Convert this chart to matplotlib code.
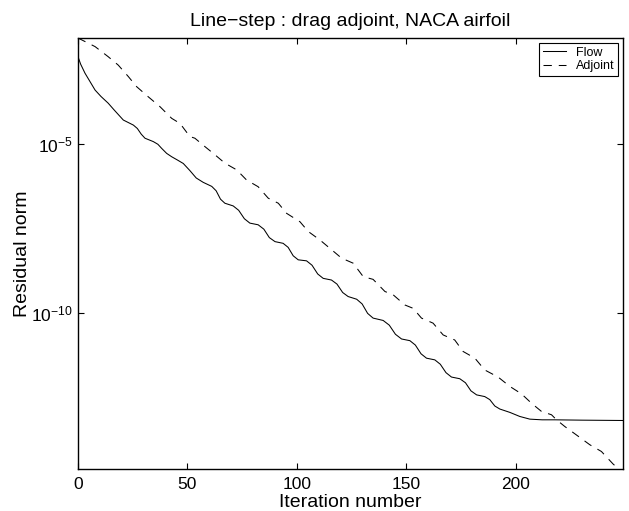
import numpy as np
import matplotlib
matplotlib.use("Agg")
import matplotlib.pyplot as plt
from matplotlib.ticker import FixedLocator, NullLocator, LogFormatterSciNotation

# residual history: iteration and log10 of the residual norm
flow_iter = [0, 1.2, 3.2, 7.8, 10.5, 13.8, 16.5, 20.7, 25.3, 27.1, 28.9, 30.6, 34.4,
             36.5, 38.2, 40.5, 42.8, 45.5, 48.1, 51.1, 54.0, 57.2, 61.1, 63.1, 65.1,
             67.1, 70.9, 73.4, 76.0, 78.5, 82.3, 84.9, 87.4, 90.0, 93.7, 96.0, 98.3,
             100.6, 104.4, 106.9, 109.5, 112.0, 115.8, 118.3, 120.9, 123.4, 127.3,
             129.8, 132.3, 134.8, 139.4, 142.2, 145.0, 147.8, 151.6, 154.1, 156.7,
             159.2, 163.0, 165.5, 168.1, 170.6, 174.4, 177.0, 179.5, 182.1, 185.8,
             188.1, 190.4, 192.7, 197.3, 201.8, 206.4, 212.0, 217.8, 230.0, 249.0]
flow_log = [-2.40, -2.62, -2.89, -3.39, -3.58, -3.78, -3.98, -4.28, -4.43, -4.53, -4.70, -4.82, -4.92,
            -5.00, -5.12, -5.27, -5.37, -5.47, -5.57, -5.78, -6.00, -6.13, -6.25, -6.38, -6.63,
            -6.75, -6.83, -6.96, -7.21, -7.34, -7.39, -7.52, -7.77, -7.89, -7.94, -8.06, -8.31,
            -8.43, -8.46, -8.59, -8.85, -8.98, -9.03, -9.15, -9.40, -9.52, -9.60,
            -9.74, -10.02, -10.16, -10.23, -10.37, -10.64, -10.78, -10.83, -10.96, -11.22,
            -11.35, -11.40, -11.53, -11.78, -11.91, -11.96, -12.08, -12.32, -12.44, -12.49,
            -12.58, -12.77, -12.86, -12.96, -13.08, -13.16, -13.18, -13.18, -13.19, -13.20]

adj_iter = [0, 7.8, 13.8, 18.4, 23.0, 26.8, 32.1, 37.4, 42.8, 46.6, 51.1, 53.4, 58.0,
            61.8, 67.1, 72.5, 77.0, 82.3, 86.9, 91.5, 95.3, 101.4, 105.2, 110.5, 115.1,
            120.4, 125.7, 130.3, 134.8, 140.2, 144.0, 149.3, 153.1, 156.9, 162.2, 166.8,
            172.1, 175.9, 181.3, 185.8, 191.9, 197.3, 202.6, 207.2, 211.7, 216.3, 218.6,
            222.4, 227.7, 233.8, 239.1, 244.4, 247.0]
adj_log = [-1.845, -2.10, -2.40, -2.65, -2.99, -3.29, -3.59, -3.88, -4.23, -4.38, -4.77, -4.82, -5.07,
           -5.27, -5.56, -5.76, -6.06, -6.26, -6.60, -6.75, -7.05, -7.30, -7.59, -7.84, -8.09,
           -8.38, -8.53, -8.93, -9.01, -9.37, -9.47, -9.77, -9.87, -10.16, -10.31, -10.66,
           -10.81, -11.15, -11.35, -11.70, -11.91, -12.19, -12.41, -12.69, -12.93, -13.03, -13.18,
           -13.38, -13.63, -13.92, -14.12, -14.49, -14.64]

x_ticks = [0, 50, 100, 150, 200]
y_ticks = [1e-5, 1e-10]

plt.rcParams['font.family'] = ['Liberation Sans', 'DejaVu Sans']
plt.rcParams['mathtext.fontset'] = 'custom'
plt.rcParams['mathtext.rm'] = 'Liberation Sans'
plt.rcParams['mathtext.it'] = 'Liberation Sans:italic'
plt.rcParams['lines.scale_dashes'] = False

fig = plt.figure(figsize = (6.29, 5.11), dpi = 100)
ax = fig.add_axes([0.124, 0.0822, 0.8666, 0.8434])

ax.semilogy(flow_iter, 10.0**np.array(flow_log), color = 'k', linewidth = 0.75, label = 'Flow')
ax.semilogy(adj_iter, 10.0**np.array(adj_log), color = 'k', linewidth = 0.75,
            dashes = (6, 5), label = 'Adjoint')

ax.set_xlim(0, 249)
ax.set_ylim(10**-14.64, 10**-1.845)

ax.xaxis.set_major_locator(FixedLocator(x_ticks))
ax.yaxis.set_major_locator(FixedLocator(y_ticks))
ax.yaxis.set_minor_locator(NullLocator())
ax.yaxis.set_major_formatter(LogFormatterSciNotation())

ax.tick_params(direction = 'in', top = True, right = True, length = 4, width = 0.8,
               labelsize = 12.5)
ax.tick_params(axis = 'x', pad = 5.5)
ax.tick_params(axis = 'y', pad = 4)
for s in ax.spines.values():
    s.set_linewidth(1.0)

ax.set_title('Line\u2212step : drag adjoint, NACA airfoil', fontsize = 14, pad = 9)
ax.set_xlabel('Iteration number', fontsize = 14)
ax.set_ylabel('Residual norm', fontsize = 14)
ax.xaxis.set_label_coords(0.5, -0.057)
ax.yaxis.set_label_coords(-0.086, 0.5)

leg = ax.legend(loc = 'upper right', fontsize = 9, handlelength = 1.9, handletextpad = 0.75,
                borderpad = 0.3, labelspacing = 0.1, borderaxespad = 0.4, fancybox = False,
                framealpha = 1)
leg.get_frame().set_edgecolor('k')
leg.get_frame().set_linewidth(0.8)

plt.savefig('out.png', dpi = 100)
